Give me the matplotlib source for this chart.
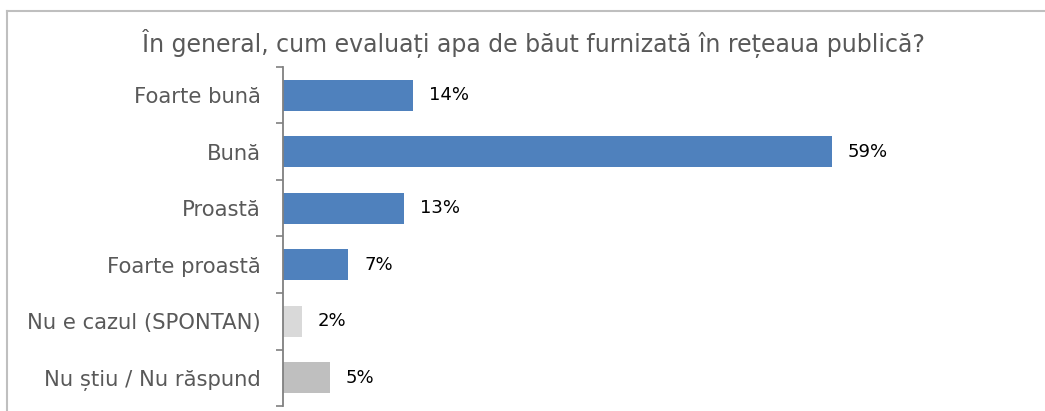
import matplotlib.pyplot as plt
from matplotlib.lines import Line2D

categories = ["Foarte bună", "Bună", "Proastă", "Foarte proastă",
              "Nu e cazul (SPONTAN)", "Nu știu / Nu răspund"]
values = [14, 59, 13, 7, 2, 5]
labels = ["14%", "59%", "13%", "7%", "2%", "5%"]
colors = ["#4F81BD", "#4F81BD", "#4F81BD", "#4F81BD", "#D9D9D9", "#BFBFBF"]
title = "În general, cum evaluați apa de băut furnizată în rețeaua publică?"

W, H = 1045, 411
fig = plt.figure(figsize=(W / 100, H / 100), dpi=100)
plt.rcParams['font.family'] = ['DejaVu Sans']

# axes placed in pixel terms of the reference
x0, x1 = 283, 999
y_top, y_bot = 67, 406
ax = fig.add_axes([x0 / W, 1 - y_bot / H, (x1 - x0) / W, (y_bot - y_top) / H])

pos = list(range(len(categories)))
ax.barh(pos, values, height=0.54, color=colors)
ax.set_ylim(len(categories) - 0.5, -0.5)
ax.set_xlim(0, (x1 - x0) / 9.3)

for p, v, lab in zip(pos, values, labels):
    ax.annotate(lab, (v, p), xytext=(16, 0), textcoords='offset pixels',
                va='center', ha='left', fontsize=13, color='#000000')

ax.set_yticks(pos)
ax.set_yticklabels(categories, fontsize=15.2, color='#595959')
ax.set_yticks([p - 0.5 for p in range(len(categories) + 1)], minor=True)
ax.tick_params(axis='y', which='major', length=0, pad=16)
ax.tick_params(axis='y', which='minor', length=5, color='#808080', width=1.2)
ax.set_xticks([])
for s in ['top', 'right', 'bottom']:
    ax.spines[s].set_visible(False)
ax.spines['left'].set_color('#808080')
ax.spines['left'].set_linewidth(1.3)

fig.text(533 / W, 1 - 44 / H, title, ha='center', va='center',
         fontsize=17, color='#595959')

# chart frame (partly cut by the image edges)
fig.add_artist(Line2D([7 / W, 7 / W], [0, 1 - 11 / H], transform=fig.transFigure,
                      color='#BFBFBF', lw=1.5))
fig.add_artist(Line2D([7 / W, 1], [1 - 11 / H, 1 - 11 / H], transform=fig.transFigure,
                      color='#BFBFBF', lw=1.5))

fig.savefig("out.png", dpi=100)
